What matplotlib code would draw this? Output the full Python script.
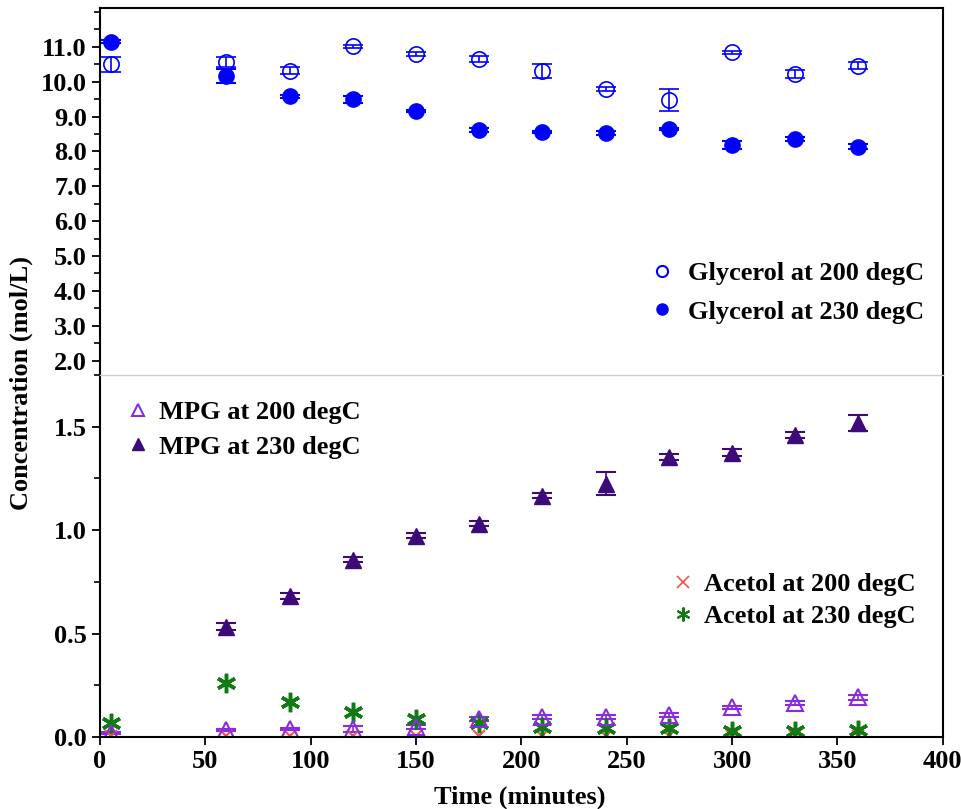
import numpy as np
import matplotlib.pyplot as plt
from matplotlib.lines import Line2D
from matplotlib.ticker import MultipleLocator, FormatStrFormatter

plt.rcParams['font.family'] = ['Liberation Serif', 'DejaVu Serif']
plt.rcParams['font.weight'] = 'bold'

# time points (minutes)
tiempo = [5, 60, 90, 120, 150, 180, 210, 240, 270, 300, 330, 360]

# glycerol (mol/L)
gly_200 = [10.50, 10.56, 10.31, 11.01, 10.79, 10.65, 10.31, 9.79, 9.48, 10.84, 10.22, 10.46]
gly_200_err = [0.21, 0.15, 0.10, 0.05, 0.05, 0.10, 0.20, 0.05, 0.32, 0.05, 0.12, 0.10]
gly_230 = [11.15, 10.15, 9.58, 9.50, 9.15, 8.62, 8.57, 8.53, 8.64, 8.19, 8.35, 8.14]
gly_230_err = [0.05, 0.20, 0.05, 0.10, 0.03, 0.05, 0.03, 0.06, 0.03, 0.12, 0.06, 0.06]

# MPG (mol/L)
mpg_200 = [0.02, 0.035, 0.04, 0.04, 0.05, 0.085, 0.095, 0.097, 0.105, 0.143, 0.163, 0.193]
mpg_200_err = [0.005, 0.005, 0.005, 0.015, 0.01, 0.01, 0.01, 0.01, 0.01, 0.008, 0.01, 0.012]
mpg_230 = [None, 0.534, 0.682, 0.858, 0.972, 1.030, 1.166, 1.224, 1.353, 1.375, 1.461, 1.518]
mpg_230_err = [0, 0.015, 0.015, 0.012, 0.012, 0.012, 0.012, 0.056, 0.015, 0.015, 0.015, 0.04]

# acetol (mol/L)
ace_200 = [0.005, 0.004, 0.004, 0.005, 0.005, 0.004, 0.005, 0.005, 0.005, 0.004, 0.004, 0.004]
ace_230 = [0.066, 0.260, 0.171, 0.122, 0.086, 0.066, 0.050, 0.042, 0.042, 0.029, 0.029, 0.034]

azul = '#0000ff'
violeta = '#8a2be2'
indigo = '#3d0a7a'
rojo = '#ff5050'
verde = '#127a12'
fs = 19

fig = plt.figure(figsize=(9.62, 8.09), dpi=100)
ax1 = fig.add_axes([0.104, 0.5365, 0.876, 0.4535])
ax2 = fig.add_axes([0.104, 0.089, 0.876, 0.4475], sharex=ax1)

eb = dict(capsize=7, elinewidth=1.2, capthick=1.5, linestyle='none')

""" panel superior: glicerol """
ax1.errorbar(tiempo, gly_200, yerr=gly_200_err, marker='o', ms=11, mfc='none',
             mec=azul, mew=1.2, color=azul, **eb)
ax1.errorbar(tiempo, gly_230, yerr=gly_230_err, marker='o', ms=11, mfc=azul,
             mec=azul, color=azul, **eb)
ax1.set_ylim(1.59, 12.11)
ax1.yaxis.set_minor_locator(MultipleLocator(0.5))
ax1.yaxis.set_major_formatter(FormatStrFormatter('%.1f'))
ax1.set_yticks(np.arange(2, 11.5, 1.0))
ax1.spines['bottom'].set_visible(False)
ax1.tick_params(axis='x', bottom=False, labelbottom=False)

h_gly = [Line2D([], [], ls='none', marker='o', ms=8, mfc='none', mec=azul, mew=1.5),
         Line2D([], [], ls='none', marker='o', ms=8, mfc=azul, mec=azul)]
ax1.legend(h_gly, ['Glycerol at 200 degC', 'Glycerol at 230 degC'],
           loc='lower right', bbox_to_anchor=(1.006, 0.075), frameon=False,
           fontsize=fs, handlelength=0.8, handletextpad=0.6, labelspacing=0.58)

""" panel inferior: MPG y acetol """
ax2.errorbar(tiempo, mpg_200, yerr=mpg_200_err, marker='^', ms=12, mfc='none',
             mec=violeta, mew=1.5, color=violeta, **eb)
m230 = np.array([np.nan if v is None else v for v in mpg_230])
ax2.errorbar(tiempo, m230, yerr=mpg_230_err, marker='^', ms=12, mfc=indigo,
             mec=indigo, color=indigo, **eb)
ax2.plot(tiempo, ace_200, linestyle='none', marker='x', ms=9, mew=1.5, color=rojo)
ax2.plot(tiempo, ace_230, linestyle='none', marker=(6, 2, 0), ms=14, mew=2.5, color=verde)
ax2.set_ylim(0, 1.75)
ax2.set_xlim(0, 400)
ax2.yaxis.set_major_locator(MultipleLocator(0.5))
ax2.yaxis.set_minor_locator(MultipleLocator(0.25))
ax2.yaxis.set_major_formatter(FormatStrFormatter('%.1f'))
ax2.xaxis.set_major_locator(MultipleLocator(50))
ax2.spines['top'].set_color('#cccccc')
ax2.spines['top'].set_linewidth(1.0)

h_mpg = [Line2D([], [], ls='none', marker='^', ms=8, mfc='none', mec=violeta, mew=1.5),
         Line2D([], [], ls='none', marker='^', ms=8, mfc=indigo, mec=indigo)]
leg1 = ax2.legend(h_mpg, ['MPG at 200 degC', 'MPG at 230 degC'],
                  loc='upper left', bbox_to_anchor=(0.004, 0.995), frameon=False,
                  fontsize=fs, handlelength=0.8, handletextpad=0.4, labelspacing=0.42)
ax2.add_artist(leg1)
h_ace = [Line2D([], [], ls='none', marker='x', ms=8, mew=1.2, color=rojo),
         Line2D([], [], ls='none', marker=(6, 2, 0), ms=10, mew=1.5, color=verde)]
ax2.legend(h_ace, ['Acetol at 200 degC', 'Acetol at 230 degC'],
           loc='upper right', bbox_to_anchor=(0.996, 0.52), frameon=False,
           fontsize=fs, handlelength=0.8, handletextpad=0.4, labelspacing=0.32)

for ax in (ax1, ax2):
    for s in ['left', 'right']:
        ax.spines[s].set_linewidth(1.5)
    ax.tick_params(axis='both', which='major', direction='out', length=6, width=1.3,
                   labelsize=fs)
    ax.tick_params(axis='both', which='minor', direction='out', length=4, width=1.2)
    ax.tick_params(axis='x', which='minor', bottom=False)
ax1.spines['top'].set_linewidth(1.5)
ax2.spines['bottom'].set_linewidth(1.5)

fig.text(0.022, 0.527, 'Concentration (mol/L)', rotation=90, ha='center', va='center',
         fontsize=fs, fontweight='bold')
fig.text(0.54, 0.014, 'Time (minutes)', ha='center', va='center',
         fontsize=fs, fontweight='bold')

fig.savefig('out.png', dpi=100)
